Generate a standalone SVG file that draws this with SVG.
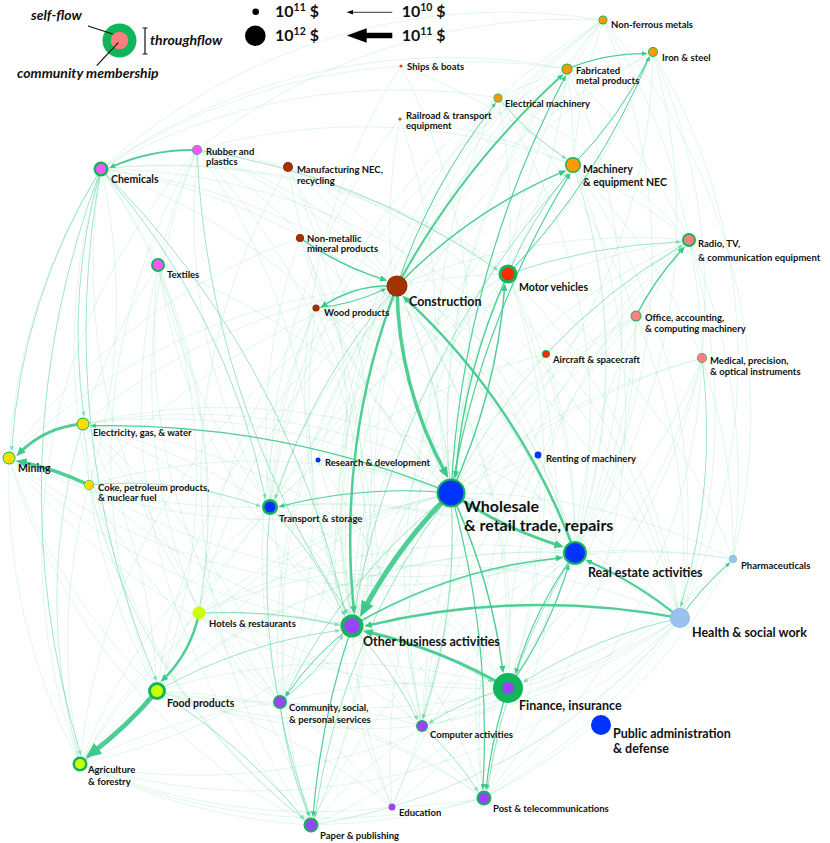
<svg xmlns="http://www.w3.org/2000/svg" width="830" height="843" viewBox="0 0 830 843">
<style>
.rg{fill:#12b559}
.or{fill:#ff9900}.mg{fill:#ff55ff}.br{fill:#a23000}.rd{fill:#ff2a00}.pk{fill:#ff7f80}
.ye{fill:#ffdd00}.li{fill:#ccff00}.pu{fill:#9944ff}.bl{fill:#0033ff}.lb{fill:#99c2ee}
text{font-family:Lato,"Liberation Sans",sans-serif;font-weight:700;fill:#111}
.a{font-size:9.5px}.b{font-size:10.5px}.c{font-size:12.5px}.d{font-size:16px}
.lg{font-size:14px;font-style:italic}
.num{font-size:16px}
.m path{marker-end:url(#am)}
.s path{marker-end:url(#ah)}
.t path{marker-end:url(#at)}
</style>
<defs>
<marker id="ah" viewBox="0 0 12 10" refX="7" refY="5" markerWidth="3.2" markerHeight="2.67" orient="auto" markerUnits="strokeWidth"><path d="M0 0L12 5L0 10z" fill="#3dc98a"/></marker>
<marker id="at" viewBox="0 0 12 10" refX="7" refY="5" markerWidth="5" markerHeight="4.17" orient="auto" markerUnits="strokeWidth"><path d="M0 0L12 5L0 10z" fill="#3dc98a"/></marker>
<marker id="am" viewBox="0 0 12 10" refX="7" refY="5" markerWidth="5.5" markerHeight="4.58" orient="auto" markerUnits="strokeWidth"><path d="M0 0L12 5L0 10z" fill="#3dc98a" fill-opacity=".5"/></marker>
</defs>
<rect width="830" height="843" fill="#fff"/>

<g id="legend">
<circle class="rg" cx="119.5" cy="40.5" r="17"/>
<circle class="pk" cx="119.5" cy="40.5" r="8.7"/>
<path d="M88 26L112.7 34M96.7 65.7L118.3 42.7M145 28V54M142.5 28H147.5M142.5 54H147.5" stroke="#111" stroke-width="1.2" fill="none"/>
<text class="lg" x="31" y="20">self-flow</text>
<text class="lg" x="150" y="45">throughflow</text>
<text class="lg" x="17" y="78">community membership</text>
<circle cx="255.7" cy="11.7" r="3.3" fill="#000"/>
<circle cx="255.3" cy="35.7" r="10.3" fill="#000"/>
<text class="num" x="275" y="17.3">10<tspan font-size="10.5" dy="-6">11</tspan><tspan dy="6"> $</tspan></text>
<text class="num" x="275" y="41.3">10<tspan font-size="10.5" dy="-6">12</tspan><tspan dy="6"> $</tspan></text>
<path d="M352 12.3H392.3" stroke="#000" stroke-width=".8"/>
<path d="M346.7 12.3L353 10L353 14.6z" fill="#000"/>
<path d="M365 35.5H392.3" stroke="#000" stroke-width="5.5"/>
<path d="M346.7 35.5L366.7 28.3L366.7 42.7z" fill="#000"/>
<text class="num" x="401.7" y="17.3">10<tspan font-size="10.5" dy="-6">10</tspan><tspan dy="6"> $</tspan></text>
<text class="num" x="401.7" y="41.3">10<tspan font-size="10.5" dy="-6">11</tspan><tspan dy="6"> $</tspan></text>
</g>

<g id="connectors">
<g id="faint-edges" fill="none" stroke="#3fcc8c" stroke-opacity=".2" stroke-width=".8">
<path d="M101 169A600 600 0 0 1 451 493"/><path d="M101 169A600 600 0 0 0 311 825"/><path d="M101 169A600 600 0 0 0 280 702"/>
<path d="M101 169A600 600 0 0 1 158 265"/><path d="M101 169A600 600 0 0 1 89 485"/><path d="M101 169A600 600 0 0 1 199 613"/>
<path d="M101 169A600 600 0 0 1 575 553"/><path d="M101 169A600 600 0 0 1 397 286"/><path d="M101 169A600 600 0 0 1 508 274"/>
<path d="M101 169A600 600 0 0 1 680 618"/>
<path d="M197 150A600 600 0 0 1 397 286"/><path d="M197 150A600 600 0 0 1 451 493"/><path d="M197 150A600 600 0 0 0 270 507"/>
<path d="M197 150A600 600 0 0 0 157 691"/><path d="M197 150A600 600 0 0 1 280 702"/><path d="M197 150A600 600 0 0 1 311 825"/>
<path d="M197 150A600 600 0 0 0 199 613"/><path d="M197 150A600 600 0 0 0 80 764"/><path d="M197 150A600 600 0 0 0 158 265"/>
<path d="M197 150A600 600 0 0 1 288 167"/><path d="M197 150A600 600 0 0 1 573 165"/><path d="M197 150A600 600 0 0 1 575 553"/>
<path d="M288 167A600 600 0 0 1 352 626"/><path d="M288 167A600 600 0 0 0 451 493"/><path d="M288 167A600 600 0 0 1 575 553"/>
<path d="M288 167A600 600 0 0 1 280 702"/><path d="M288 167A600 600 0 0 0 311 825"/><path d="M288 167A600 600 0 0 1 680 618"/>
<path d="M288 167A600 600 0 0 1 397 286"/>
<path d="M300 238A600 600 0 0 0 451 493"/><path d="M300 238A600 600 0 0 0 270 507"/><path d="M300 238A600 600 0 0 1 352 626"/>
<path d="M300 238A600 600 0 0 0 9 458"/><path d="M300 238A600 600 0 0 1 575 553"/>
<path d="M158 265A600 600 0 0 1 451 493"/><path d="M158 265A600 600 0 0 0 352 626"/><path d="M158 265A600 600 0 0 0 311 825"/>
<path d="M158 265A600 600 0 0 0 280 702"/><path d="M158 265A600 600 0 0 1 199 613"/><path d="M158 265A600 600 0 0 0 270 507"/>
<path d="M158 265A600 600 0 0 0 80 764"/><path d="M158 265A600 600 0 0 1 157 691"/>
<path d="M316 308A600 600 0 0 0 352 626"/><path d="M316 308A600 600 0 0 1 311 825"/><path d="M316 308A600 600 0 0 1 575 553"/>
<path d="M316 308A600 600 0 0 0 270 507"/><path d="M316 308A600 600 0 0 0 280 702"/><path d="M316 308A600 600 0 0 0 199 613"/>
<path d="M397 286A600 600 0 0 0 83 424"/><path d="M397 286A600 600 0 0 0 9 458"/><path d="M397 286A600 600 0 0 0 318 460"/>
<path d="M397 286A600 600 0 0 0 311 825"/><path d="M397 286A600 600 0 0 0 280 702"/><path d="M397 286A600 600 0 0 1 508 688"/>
<path d="M397 286A600 600 0 0 1 680 618"/><path d="M397 286A600 600 0 0 1 484 798"/><path d="M397 286A600 600 0 0 1 422 726"/>
<path d="M397 286A600 600 0 0 0 392 807"/><path d="M397 286A600 600 0 0 1 603 20"/><path d="M397 286A600 600 0 0 1 653 52"/>
<path d="M397 286A600 600 0 0 1 508 274"/><path d="M397 286A600 600 0 0 1 689 240"/><path d="M397 286A600 600 0 0 0 199 613"/>
<path d="M397 286A600 600 0 0 0 157 691"/><path d="M397 286A600 600 0 0 0 80 764"/>
<path d="M401 66A600 600 0 0 1 451 493"/><path d="M401 66A600 600 0 0 1 573 165"/><path d="M401 66A600 600 0 0 1 567 69"/>
<path d="M401 66A600 600 0 0 0 101 169"/><path d="M401 66A600 600 0 0 0 352 626"/>
<path d="M400 119A600 600 0 0 0 451 493"/><path d="M400 119A600 600 0 0 0 270 507"/><path d="M400 119A600 600 0 0 1 573 165"/>
<path d="M400 119A600 600 0 0 1 352 626"/>
<path d="M603 20A600 600 0 0 0 451 493"/><path d="M603 20A600 600 0 0 0 573 165"/><path d="M603 20A600 600 0 0 0 508 274"/>
<path d="M603 20A600 600 0 0 0 567 69"/><path d="M603 20A600 600 0 0 0 498 98"/><path d="M603 20A600 600 0 0 0 352 626"/>
<path d="M603 20A600 600 0 0 1 575 553"/><path d="M603 20A600 600 0 0 0 422 726"/><path d="M603 20A600 600 0 0 1 733 559"/>
<path d="M603 20A600 600 0 0 1 689 240"/><path d="M603 20A600 600 0 0 0 101 169"/><path d="M603 20A600 600 0 0 0 197 150"/>
<path d="M653 52A600 600 0 0 1 573 165"/><path d="M653 52A600 600 0 0 1 508 274"/><path d="M653 52A600 600 0 0 1 451 493"/>
<path d="M653 52A600 600 0 0 0 352 626"/><path d="M653 52A600 600 0 0 1 575 553"/><path d="M653 52A600 600 0 0 1 702 358"/>
<path d="M653 52A600 600 0 0 1 680 618"/>
<path d="M567 69A600 600 0 0 1 573 165"/><path d="M567 69A600 600 0 0 1 508 274"/><path d="M567 69A600 600 0 0 0 451 493"/>
<path d="M567 69A600 600 0 0 0 352 626"/><path d="M567 69A600 600 0 0 1 575 553"/><path d="M567 69A600 600 0 0 0 498 98"/>
<path d="M567 69A600 600 0 0 1 689 240"/><path d="M567 69A600 600 0 0 0 270 507"/><path d="M567 69A600 600 0 0 0 101 169"/>
<path d="M498 98A600 600 0 0 1 508 274"/><path d="M498 98A600 600 0 0 1 689 240"/><path d="M498 98A600 600 0 0 0 451 493"/>
<path d="M498 98A600 600 0 0 0 352 626"/><path d="M498 98A600 600 0 0 0 270 507"/><path d="M498 98A600 600 0 0 1 636 316"/>
<path d="M498 98A600 600 0 0 1 575 553"/><path d="M498 98A600 600 0 0 0 101 169"/>
<path d="M573 165A600 600 0 0 0 451 493"/><path d="M573 165A600 600 0 0 0 352 626"/><path d="M573 165A600 600 0 0 1 575 553"/>
<path d="M573 165A600 600 0 0 1 508 688"/><path d="M573 165A600 600 0 0 0 270 507"/><path d="M573 165A600 600 0 0 0 422 726"/>
<path d="M573 165A600 600 0 0 1 484 798"/><path d="M573 165A600 600 0 0 1 680 618"/><path d="M573 165A600 600 0 0 1 689 240"/>
<path d="M573 165A600 600 0 0 1 702 358"/>
<path d="M508 274A600 600 0 0 0 352 626"/><path d="M508 274A600 600 0 0 1 575 553"/><path d="M508 274A600 600 0 0 0 270 507"/>
<path d="M508 274A600 600 0 0 1 508 688"/><path d="M508 274A600 600 0 0 1 680 618"/><path d="M508 274A600 600 0 0 0 422 726"/>
<path d="M508 274A600 600 0 0 1 484 798"/>
<path d="M689 240A600 600 0 0 0 451 493"/><path d="M689 240A600 600 0 0 0 352 626"/><path d="M689 240A600 600 0 0 0 575 553"/>
<path d="M689 240A600 600 0 0 0 422 726"/><path d="M689 240A600 600 0 0 0 484 798"/><path d="M689 240A600 600 0 0 1 702 358"/>
<path d="M689 240A600 600 0 0 1 680 618"/><path d="M689 240A600 600 0 0 0 508 688"/><path d="M689 240A600 600 0 0 0 270 507"/>
<path d="M689 240A600 600 0 0 1 733 559"/>
<path d="M636 316A600 600 0 0 0 451 493"/><path d="M636 316A600 600 0 0 0 352 626"/><path d="M636 316A600 600 0 0 1 575 553"/>
<path d="M636 316A600 600 0 0 0 422 726"/><path d="M636 316A600 600 0 0 1 508 688"/><path d="M636 316A600 600 0 0 0 484 798"/>
<path d="M636 316A600 600 0 0 1 680 618"/>
<path d="M546 354A600 600 0 0 0 451 493"/><path d="M546 354A600 600 0 0 0 352 626"/><path d="M546 354A600 600 0 0 1 575 553"/>
<path d="M546 354A600 600 0 0 0 270 507"/>
<path d="M702 358A600 600 0 0 0 451 493"/><path d="M702 358A600 600 0 0 0 352 626"/><path d="M702 358A600 600 0 0 1 575 553"/>
<path d="M702 358A600 600 0 0 1 508 688"/><path d="M702 358A600 600 0 0 1 733 559"/><path d="M702 358A600 600 0 0 1 422 726"/>
<path d="M702 358A600 600 0 0 1 484 798"/>
<path d="M83 424A600 600 0 0 1 89 485"/><path d="M83 424A600 600 0 0 1 451 493"/><path d="M83 424A600 600 0 0 1 352 626"/>
<path d="M83 424A600 600 0 0 1 270 507"/><path d="M83 424A600 600 0 0 1 157 691"/><path d="M83 424A600 600 0 0 0 80 764"/>
<path d="M83 424A600 600 0 0 1 575 553"/><path d="M83 424A600 600 0 0 1 280 702"/><path d="M83 424A600 600 0 0 1 199 613"/>
<path d="M83 424A600 600 0 0 0 311 825"/><path d="M83 424A600 600 0 0 1 508 688"/><path d="M83 424A600 600 0 0 1 680 618"/>
<path d="M9 458A600 600 0 0 1 101 169"/><path d="M9 458A600 600 0 0 0 352 626"/><path d="M9 458A600 600 0 0 0 451 493"/>
<path d="M9 458A600 600 0 0 0 80 764"/><path d="M9 458A600 600 0 0 0 270 507"/><path d="M9 458A600 600 0 0 0 157 691"/>
<path d="M9 458A600 600 0 0 0 575 553"/><path d="M9 458A600 600 0 0 0 311 825"/><path d="M9 458A600 600 0 0 0 508 688"/>
<path d="M89 485A600 600 0 0 1 451 493"/><path d="M89 485A600 600 0 0 0 352 626"/><path d="M89 485A600 600 0 0 0 80 764"/>
<path d="M89 485A600 600 0 0 0 157 691"/><path d="M89 485A600 600 0 0 1 397 286"/><path d="M89 485A600 600 0 0 0 575 553"/>
<path d="M89 485A600 600 0 0 0 280 702"/><path d="M89 485A600 600 0 0 0 311 825"/>
<path d="M318 460A600 600 0 0 1 451 493"/><path d="M318 460A600 600 0 0 1 352 626"/><path d="M318 460A600 600 0 0 1 422 726"/>
<path d="M318 460A600 600 0 0 1 508 274"/><path d="M318 460A600 600 0 0 1 575 553"/><path d="M318 460A600 600 0 0 1 270 507"/>
<path d="M538 455A600 600 0 0 0 451 493"/><path d="M538 455A600 600 0 0 0 352 626"/><path d="M538 455A600 600 0 0 1 575 553"/>
<path d="M538 455A600 600 0 0 1 508 688"/><path d="M538 455A600 600 0 0 0 397 286"/><path d="M538 455A600 600 0 0 0 422 726"/>
<path d="M270 507A600 600 0 0 1 575 553"/><path d="M270 507A600 600 0 0 1 508 688"/><path d="M270 507A600 600 0 0 0 199 613"/>
<path d="M270 507A600 600 0 0 0 157 691"/><path d="M270 507A600 600 0 0 1 280 702"/><path d="M270 507A600 600 0 0 1 484 798"/>
<path d="M270 507A600 600 0 0 0 80 764"/><path d="M270 507A600 600 0 0 1 422 726"/><path d="M270 507A600 600 0 0 1 680 618"/>
<path d="M451 493A600 600 0 0 0 199 613"/><path d="M451 493A600 600 0 0 0 157 691"/><path d="M451 493A600 600 0 0 0 80 764"/>
<path d="M451 493A600 600 0 0 0 392 807"/><path d="M451 493A600 600 0 0 1 680 618"/><path d="M451 493A600 600 0 0 0 397 286"/>
<path d="M451 493A600 600 0 0 1 733 559"/>
<path d="M575 553A600 600 0 0 0 352 626"/><path d="M575 553A600 600 0 0 0 422 726"/><path d="M575 553A600 600 0 0 1 733 559"/>
<path d="M575 553A600 600 0 0 0 280 702"/><path d="M575 553A600 600 0 0 0 311 825"/><path d="M575 553A600 600 0 0 0 157 691"/>
<path d="M575 553A600 600 0 0 0 80 764"/><path d="M575 553A600 600 0 0 0 199 613"/><path d="M575 553A600 600 0 0 0 392 807"/>
<path d="M733 559A600 600 0 0 0 352 626"/><path d="M733 559A600 600 0 0 0 101 169"/><path d="M733 559A600 600 0 0 1 508 688"/>
<path d="M733 559A600 600 0 0 1 484 798"/><path d="M733 559A600 600 0 0 1 422 726"/>
<path d="M680 618A600 600 0 0 1 422 726"/><path d="M680 618A600 600 0 0 1 484 798"/><path d="M680 618A600 600 0 0 1 280 702"/>
<path d="M680 618A600 600 0 0 1 311 825"/><path d="M680 618A600 600 0 0 1 392 807"/><path d="M680 618A600 600 0 0 0 199 613"/>
<path d="M680 618A600 600 0 0 1 157 691"/><path d="M680 618A600 600 0 0 1 80 764"/>
<path d="M199 613A600 600 0 0 0 80 764"/><path d="M199 613A600 600 0 0 1 280 702"/><path d="M199 613A600 600 0 0 1 311 825"/>
<path d="M199 613A600 600 0 0 1 508 688"/><path d="M199 613A600 600 0 0 1 422 726"/>
<path d="M352 626A600 600 0 0 0 484 798"/><path d="M352 626A600 600 0 0 0 392 807"/><path d="M352 626A600 600 0 0 1 80 764"/>
<path d="M352 626A600 600 0 0 0 199 613"/>
<path d="M508 688A600 600 0 0 1 392 807"/><path d="M508 688A600 600 0 0 1 311 825"/><path d="M508 688A600 600 0 0 0 280 702"/>
<path d="M508 688A600 600 0 0 0 157 691"/><path d="M508 688A600 600 0 0 1 80 764"/>
<path d="M157 691A600 600 0 0 0 280 702"/><path d="M157 691A600 600 0 0 0 422 726"/><path d="M157 691A600 600 0 0 1 392 807"/>
<path d="M157 691A600 600 0 0 1 484 798"/>
<path d="M280 702A600 600 0 0 1 422 726"/><path d="M280 702A600 600 0 0 1 484 798"/><path d="M280 702A600 600 0 0 1 392 807"/>
<path d="M280 702A600 600 0 0 0 80 764"/>
<path d="M422 726A600 600 0 0 0 311 825"/><path d="M422 726A600 600 0 0 1 392 807"/>
<path d="M80 764A600 600 0 0 0 311 825"/><path d="M80 764A600 600 0 0 0 392 807"/><path d="M80 764A600 600 0 0 0 484 798"/>
<path d="M392 807A600 600 0 0 1 311 825"/><path d="M392 807A600 600 0 0 0 484 798"/>
<path d="M484 798A600 600 0 0 1 311 825"/>
</g>

<g id="medium-edges" class="m" fill="none" stroke="#3fcc8c" stroke-opacity=".5" stroke-width="1">
<path d="M89 485A400 400 0 0 1 259.3 505.7"/>
<path d="M280 702A400 400 0 0 0 308.5 815"/>
<path d="M157 691A600 600 0 0 1 303.2 818.2"/>
<path d="M508 688A300 300 0 0 0 430.1 722.4"/>
<path d="M352 626A400 400 0 0 1 416.9 718.8"/>
<path d="M352 626A500 500 0 0 1 491.5 681.4"/>
<path d="M270 507A400 400 0 0 1 343.9 614.2"/>
<path d="M397 286A600 600 0 0 0 275.4 497.6"/>
<path d="M451 493A600 600 0 0 0 286.2 694.4"/>
<path d="M451 493A700 700 0 0 0 315 815.5"/>
<path d="M451 493A600 600 0 0 1 423.1 717.3"/>
<path d="M575 553A600 600 0 0 0 487.6 788.3"/>
<path d="M702 358A600 600 0 0 1 681.1 605.3"/>
<path d="M498 98A300 300 0 0 0 564.9 157.8"/>
<path d="M508 274A400 400 0 0 1 567.5 174.3"/>
<path d="M352 626A900 900 0 0 1 568.3 174.7"/>
<path d="M508 274A600 600 0 0 1 679.4 241.8"/>
<path d="M546 354A600 600 0 0 1 681.3 246.1"/>
<path d="M280 702A300 300 0 0 0 342.2 636.4"/>
<path d="M199 613A500 500 0 0 1 337.8 624.8"/>
<path d="M157 691A500 500 0 0 1 338.4 630.5"/>
<path d="M422 726A300 300 0 0 1 477.3 790.2"/>
<path d="M101 169A600 600 0 0 0 11.8 449.1"/>
<path d="M197 150A700 700 0 0 1 496.6 269.4"/>
<path d="M197 150A900 900 0 0 0 347.6 612.4"/>
<path d="M101 169A700 700 0 0 1 265.2 497.3"/>
<path d="M101 169A900 900 0 0 1 345.1 613.5"/>
<path d="M101 169A900 900 0 0 0 155.7 679.3"/>
<path d="M101 169A900 900 0 0 0 80.4 753.7"/>
<path d="M101 169A600 600 0 0 0 83.7 414.7"/>
<path d="M270 507A700 700 0 0 0 309.7 814.8"/>
<path d="M680 618A500 500 0 0 0 524.5 681.3"/>
</g>

<g id="thin-strong-edges" class="t" fill="none" stroke="#3dc98a" stroke-opacity=".9">
<path stroke-width="1.5" d="M397 286A500 500 0 0 1 563.4 171.6"/>
<path stroke-width="1.5" d="M451 493A600 600 0 0 0 504.7 286.7"/>
<path stroke-width="1.5" d="M508 274A600 600 0 0 0 455.6 475.5"/>
<path stroke-width="1.5" d="M451 493A600 600 0 0 1 502.8 670.1"/>
<path stroke-width="1.2" d="M352 626A800 800 0 0 0 313.1 814.7"/>
<path stroke-width="1.2" d="M451 493A900 900 0 0 1 482.9 787.6"/>
<path stroke-width="1.2" d="M508 688A500 500 0 0 0 486.2 787.7"/>
<path stroke-width="1.5" d="M397 286A120 120 0 0 0 322.9 306.1"/>
<path stroke-width="1.5" d="M636 316A300 300 0 0 1 682.9 248.7"/>
<path stroke-width="1.2" d="M567 69A200 200 0 0 1 645.2 53.6"/>
<path stroke-width="1" d="M680 618A300 300 0 0 1 728.6 563.9"/>
<path stroke-width="1.2" d="M451 493A500 500 0 0 0 281 506.2"/>
<path stroke-width="1.2" d="M451 493A900 900 0 0 0 92.3 425.7"/>
<path stroke-width="1" d="M352 626A300 300 0 0 0 286.6 695"/>
<path stroke-width="1.2" d="M508 688A400 400 0 0 0 568.3 566.4"/>
<path stroke-width="1.2" d="M575 553A400 400 0 0 0 516 671.9"/>
<path stroke-width="1.5" d="M352 626A500 500 0 0 1 560.2 557.9"/>
<path stroke-width="1.2" d="M451 493A900 900 0 0 1 569.2 175.3"/>
<path stroke-width="1.2" d="M451 493A1000 1000 0 0 1 564.8 77.2"/>
<path stroke-width="1" d="M508 274A700 700 0 0 0 648.8 58.4"/>
<path stroke-width="1" d="M573 165A400 400 0 0 0 648.6 58.2"/>
<path stroke-width="1" d="M397 286A600 600 0 0 1 494.6 104.3"/>
<path stroke-width="1" d="M80 764A300 300 0 0 0 148.6 699"/>
<path stroke-width="1.5" d="M300 238A300 300 0 0 0 384.4 279.7"/>
<path stroke-width="1" d="M316 308A200 200 0 0 0 384.4 289.4"/>
</g>

<g id="strong-edges" class="s" fill="none" stroke="#3dc98a" stroke-opacity=".9">
<path stroke-width="5" d="M451 493A500 500 0 0 0 363.2 611"/>
<path stroke-width="5" d="M157 691A400 400 0 0 1 90.7 753.9"/>
<path stroke-width="2.5" d="M199 613A130 130 0 0 1 163.1 679.7"/>
<path stroke-width="3" d="M83 424A100 100 0 0 0 19 453.4"/>
<path stroke-width="3.5" d="M89 485A300 300 0 0 0 20.1 461.7"/>
<path stroke-width="2" d="M197 150A200 200 0 0 0 111.5 166.9"/>
<path stroke-width="3.5" d="M397 286A400 400 0 0 0 446 474"/>
<path stroke-width="2.5" d="M397 286A700 700 0 0 0 354 610.8"/>
<path stroke-width="2.5" d="M575 553A650 650 0 0 0 404.9 297.9"/>
<path stroke-width="3" d="M451 493A400 400 0 0 0 560.1 545.8"/>
<path stroke-width="3" d="M508 688A500 500 0 0 0 366.9 631.9"/>
<path stroke-width="2.5" d="M680 618A750 750 0 0 0 367.3 625.6"/>
<path stroke-width="2" d="M680 618A400 400 0 0 0 587.9 561"/>
<path stroke-width="2" d="M397 286A800 800 0 0 1 561.6 75.8"/>
</g>
</g>

<g id="nodes">
<g id="n-nonferrous"><circle class="rg" cx="603" cy="20" r="4.5"/><circle class="or" cx="603" cy="20" r="3.6"/><text class="a" x="611" y="28">Non-ferrous metals</text></g>
<g id="n-iron"><circle class="rg" cx="653" cy="52" r="5"/><circle class="or" cx="653" cy="52" r="4.1"/><text class="a" x="662" y="61">Iron &amp; steel</text></g>
<g id="n-fabricated"><circle class="rg" cx="567" cy="69" r="5.5"/><circle class="or" cx="567" cy="69" r="4.6"/><text class="a" x="576" y="74">Fabricated</text><text class="a" x="576" y="84">metal products</text></g>
<g id="n-electrical"><circle class="rg" cx="498" cy="98" r="4.5"/><circle class="or" cx="498" cy="98" r="3.8"/><text class="a" x="505" y="107">Electrical machinery</text></g>
<g id="n-ships"><circle cx="401" cy="66" r="1.6" fill="#d9480f"/><text class="a" x="407" y="70" font-size="9">Ships &amp; boats</text></g>
<g id="n-railroad"><circle cx="400" cy="119" r="1.6" fill="#d9480f"/><text class="a" x="406" y="119">Railroad &amp; transport</text><text class="a" x="406" y="129">equipment</text></g>
<g id="n-machinery"><circle class="rg" cx="573" cy="165" r="8"/><circle class="or" cx="573" cy="165" r="6.6"/><text class="b" x="583" y="173">Machinery</text><text class="b" x="583" y="186">&amp; equipment NEC</text></g>
<g id="n-rubber"><circle class="rg" cx="197" cy="150" r="5"/><circle class="mg" cx="197" cy="150" r="4.5"/><text class="a" x="206" y="155">Rubber and</text><text class="a" x="206" y="165">plastics</text></g>
<g id="n-chemicals"><circle class="rg" cx="101" cy="169" r="7.5"/><circle class="mg" cx="101" cy="169" r="5"/><text class="b" x="111" y="183">Chemicals</text></g>
<g id="n-manufacturing"><circle cx="288" cy="167" r="5" fill="#8f2a00"/><circle class="br" cx="288" cy="167" r="4.4"/><text class="a" x="297" y="173">Manufacturing NEC,</text><text class="a" x="297" y="184">recycling</text></g>
<g id="n-nonmetallic"><circle cx="300" cy="238" r="4" fill="#8f2a00"/><circle class="br" cx="300" cy="238" r="3.5"/><text class="a" x="307" y="242">Non-metallic</text><text class="a" x="307" y="252">mineral products</text></g>
<g id="n-textiles"><circle class="rg" cx="158" cy="265" r="7"/><circle class="mg" cx="158" cy="265" r="5"/><text class="a" x="167" y="278">Textiles</text></g>
<g id="n-wood"><circle cx="316" cy="308" r="3.6" fill="#8f2a00"/><circle class="br" cx="316" cy="308" r="3"/><text class="a" x="324" y="316">Wood products</text></g>
<g id="n-construction"><circle cx="397" cy="286" r="10.5" fill="#8f2a00"/><circle cx="397" cy="286" r="10" fill="#a33300"/><text class="c" x="409" y="306">Construction</text></g>
<g id="n-motor"><circle class="rg" cx="508" cy="274" r="9.5"/><circle class="rd" cx="508" cy="274" r="6.3"/><text class="b" x="519" y="291">Motor vehicles</text></g>
<g id="n-radio"><circle class="rg" cx="689" cy="240" r="7"/><circle class="pk" cx="689" cy="240" r="5"/><text class="a" x="698" y="247" font-size="10">Radio, TV,</text><text class="a" x="698" y="261" font-size="10">&amp; communication equipment</text></g>
<g id="n-office"><circle class="rg" cx="636" cy="316" r="5.5"/><circle class="pk" cx="636" cy="316" r="4.6"/><text class="a" x="645" y="321">Office, accounting,</text><text class="a" x="645" y="332">&amp; computing machinery</text></g>
<g id="n-aircraft"><circle class="rg" cx="546" cy="354" r="4"/><circle class="rd" cx="546" cy="354" r="3.3"/><text class="a" x="553" y="363" font-size="9">Aircraft &amp; spacecraft</text></g>
<g id="n-medical"><circle class="rg" cx="702" cy="358" r="5"/><circle class="pk" cx="702" cy="358" r="4.5"/><text class="a" x="710" y="364">Medical, precision,</text><text class="a" x="710" y="375">&amp; optical instruments</text></g>
<g id="n-electricity"><circle class="rg" cx="83" cy="424" r="6.5"/><circle class="ye" cx="83" cy="424" r="5.6"/><text class="a" x="93" y="436">Electricity, gas, &amp; water</text></g>
<g id="n-mining"><circle class="rg" cx="9" cy="458" r="6.5"/><circle class="ye" cx="9" cy="458" r="5.6"/><text class="b" x="18" y="472">Mining</text></g>
<g id="n-coke"><circle class="rg" cx="89" cy="485" r="5"/><circle class="ye" cx="89" cy="485" r="4.5"/><text class="a" x="98" y="491">Coke, petroleum products,</text><text class="a" x="98" y="501">&amp; nuclear fuel</text></g>
<g id="n-research"><circle class="bl" cx="318" cy="460" r="2.5"/><text class="a" x="325" y="466" font-size="9">Research &amp; development</text></g>
<g id="n-renting"><circle class="bl" cx="538" cy="455" r="3.4"/><text class="a" x="546" y="462" font-size="9">Renting of machinery</text></g>
<g id="n-transport"><circle class="rg" cx="270" cy="507" r="8"/><circle class="bl" cx="270" cy="507" r="5.5"/><text class="a" x="279" y="522" font-size="10">Transport &amp; storage</text></g>
<g id="n-wholesale"><circle class="rg" cx="451" cy="493" r="14.5"/><circle class="bl" cx="451" cy="493" r="12.5"/><text class="d" x="464" y="512">Wholesale</text><text class="d" x="464" y="531">&amp; retail trade, repairs</text></g>
<g id="n-realestate"><circle class="rg" cx="575" cy="553" r="12"/><circle class="bl" cx="575" cy="553" r="10"/><text class="c" x="588" y="577" font-size="12">Real estate activities</text></g>
<g id="n-pharma"><circle cx="733" cy="559" r="4" fill="#7fc9b0"/><circle class="lb" cx="733" cy="559" r="3.4"/><text class="a" x="741" y="569" font-size="9">Pharmaceuticals</text></g>
<g id="n-health"><circle cx="680" cy="618" r="10" fill="#86b8e6"/><circle class="lb" cx="680" cy="618" r="9.3"/><text class="c" x="692" y="637" font-size="12">Health &amp; social work</text></g>
<g id="n-hotels"><circle class="li" cx="199" cy="613" r="6.5"/><text class="a" x="209" y="627" font-size="10">Hotels &amp; restaurants</text></g>
<g id="n-otherbusiness"><circle class="rg" cx="352" cy="626" r="11.5"/><circle class="pu" cx="352" cy="626" r="7.8"/><text class="c" x="363" y="646">Other business activities</text></g>
<g id="n-finance"><circle class="rg" cx="508" cy="688" r="15"/><circle class="pu" cx="508" cy="688" r="6"/><text class="c" x="519" y="710">Finance, insurance</text></g>
<g id="n-publicadmin"><circle class="bl" cx="601" cy="725" r="10"/><text class="c" x="613" y="738" font-size="11.5">Public administration</text><text class="c" x="613" y="753" font-size="11.5">&amp; defense</text></g>
<g id="n-food"><circle class="rg" cx="157" cy="691" r="9"/><circle class="li" cx="157" cy="691" r="6"/><text class="b" x="167" y="707">Food products</text></g>
<g id="n-community"><circle class="rg" cx="280" cy="702" r="7"/><circle class="pu" cx="280" cy="702" r="5.5"/><text class="a" x="289" y="711" font-size="10">Community, social,</text><text class="a" x="289" y="723" font-size="10">&amp; personal services</text></g>
<g id="n-computer"><circle class="rg" cx="422" cy="726" r="6"/><circle class="pu" cx="422" cy="726" r="5"/><text class="a" x="430" y="738">Computer activities</text></g>
<g id="n-agriculture"><circle class="rg" cx="80" cy="764" r="7.5"/><circle class="li" cx="80" cy="764" r="5"/><text class="a" x="88" y="773" font-size="10">Agriculture</text><text class="a" x="88" y="785" font-size="10">&amp; forestry</text></g>
<g id="n-education"><circle class="pu" cx="392" cy="807" r="3.5"/><text class="a" x="399" y="816">Education</text></g>
<g id="n-post"><circle class="rg" cx="484" cy="798" r="7.5"/><circle class="pu" cx="484" cy="798" r="5.5"/><text class="a" x="493" y="812" font-size="10">Post &amp; telecommunications</text></g>
<g id="n-paper"><circle class="rg" cx="311" cy="825" r="7.5"/><circle class="pu" cx="311" cy="825" r="5.5"/><text class="a" x="320" y="839" font-size="10">Paper &amp; publishing</text></g>
</g>
</svg>
